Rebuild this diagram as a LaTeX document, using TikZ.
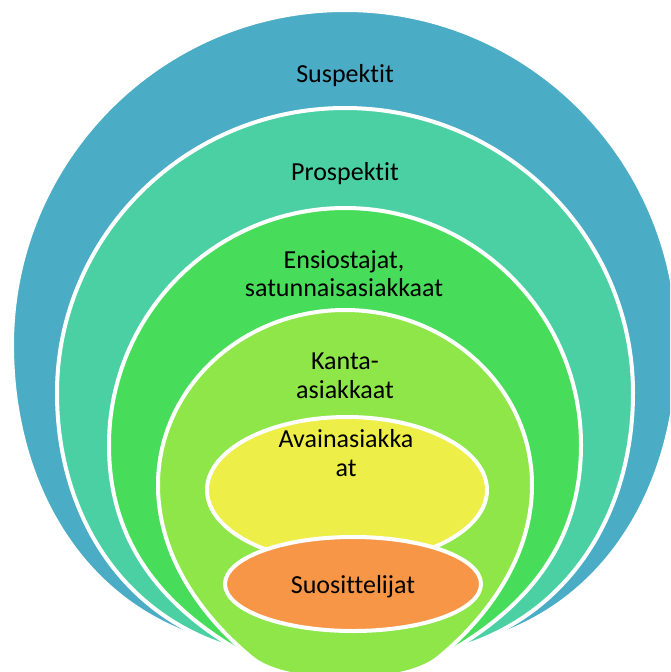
\documentclass[tikz,border=0pt]{standalone}
\usepackage{fontspec}
\setmainfont{Carlito}[Ligatures=NoCommon]
\definecolor{cBlue}{HTML}{4BACC6}
\definecolor{cTeal}{HTML}{4BD0A4}
\definecolor{cGreen}{HTML}{48DC5B}
\definecolor{cLime}{HTML}{8EE648}
\definecolor{cYellow}{HTML}{EEEE48}
\definecolor{cOrange}{HTML}{F79646}
\begin{document}
\begin{tikzpicture}[x=1pt,y=-1pt,
  band/.style={draw=white, line width=4pt},
  lbl/.style={font=\fontsize{26}{29}\selectfont, text=black, inner sep=0pt, anchor=base}]
\useasboundingbox (0,0) rectangle (670,672);
\clip (0,0) rectangle (670,672);
\fill[white] (0,0) rectangle (670,672);
% Suspektit
\path[band, fill=cBlue] (345,10) .. controls (161,10) and (12,160) .. (12,345)
  .. controls (12,485) and (83,608) .. (214,642)
  .. controls (260,652) and (300,660) .. (345,660)
  .. controls (390,660) and (430,652) .. (476,642)
  .. controls (607,608) and (678,485) .. (678,345)
  .. controls (678,160) and (529,10) .. (345,10) -- cycle;
% Prospektit
\path[band, fill=cTeal] (345,108) .. controls (186,108) and (57,236) .. (57,393)
  .. controls (57,513) and (121,617) .. (236,649)
  .. controls (275,660) and (310,668) .. (345,668)
  .. controls (380,668) and (415,660) .. (454,649)
  .. controls (569,617) and (633,513) .. (633,393)
  .. controls (633,236) and (504,108) .. (345,108) -- cycle;
% Ensiostajat
\path[band, fill=cGreen] (345,208) .. controls (215,208) and (109,314) .. (109,445)
  .. controls (109,543) and (162,609) .. (252,658)
  .. controls (285,671) and (315,675) .. (345,675)
  .. controls (375,675) and (405,671) .. (438,658)
  .. controls (528,609) and (581,543) .. (581,445)
  .. controls (581,314) and (475,208) .. (345,208) -- cycle;
% Kanta-asiakkaat
\path[band, fill=cLime] (345,310) .. controls (242,310) and (158,388) .. (158,485)
  .. controls (158,555) and (200,615) .. (252,658)
  .. controls (268,671) and (300,679) .. (345,679)
  .. controls (390,679) and (422,671) .. (438,658)
  .. controls (490,615) and (532,555) .. (532,485)
  .. controls (532,388) and (448,310) .. (345,310) -- cycle;
\path[band, fill=cYellow] (347,490) ellipse [x radius=140, y radius=73];
\path[band, fill=cOrange] (353,584) ellipse [x radius=128, y radius=47];
\node[lbl] (suspektit) at (345,82) {Suspektit};
\node[lbl] (prospektit) at (345,180) {Prospektit};
\node[lbl] (ensio1) at (344,268) {Ensiostajat,};
\node[lbl] (ensio2) at (344,296) {satunnaisasiakkaat};
\node[lbl] (kanta1) at (345,369) {Kanta-};
\node[lbl] (kanta2) at (345,398) {asiakkaat};
\node[lbl] (avain1) at (346,447) {Avainasiakka};
\node[lbl] (avain2) at (346,476) {at};
\node[lbl] (suos) at (353,593) {Suosittelijat};
\end{tikzpicture}
\end{document}
